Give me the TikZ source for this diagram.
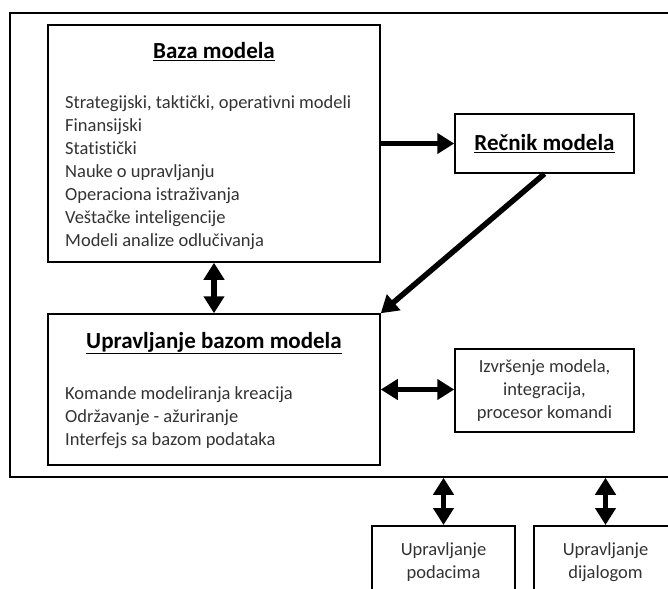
\documentclass[tikz,border=0pt]{standalone}
\usepackage{fontspec}
\setmainfont{Carlito}[Ligatures=NoCommon]
\usepackage{tikz}
\usetikzlibrary{arrows.meta}
\usetikzlibrary{positioning}
\newcommand{\naslov}[1]{\underline{\textbf{#1}}}

\tikzset{
    box/.style={draw, line width=1.5pt, rectangle, inner sep=0pt},
    bigarrow/.style={line width=5.5pt, -{Triangle[length=17pt,width=20pt]}},
    bigboth/.style={line width=5.5pt, {Triangle[length=17pt,width=20pt]}-{Triangle[length=17pt,width=20pt]}},
    titlefont/.style={font=\fontsize{23}{27}\selectfont},
    itemfont/.style={font=\fontsize{18.5}{23}\selectfont, text=black!80}
}

\begin{document}
\begin{tikzpicture}[x=1pt, y=-1pt]
    \clip (0,0) rectangle (668,588);
    \node[box, minimum width=665pt, minimum height=464pt] (okvir) at (342.5,245) {};
    \node[box, minimum width=332pt, minimum height=237pt] (baza) at (214,143.5) {};
    \node[titlefont] (baza-naslov) at (214,52) {\naslov{Baza modela}};
    \node[itemfont, align=left, anchor=north west, inner sep=0pt] (baza-lista) at (65,95) {
        Strategijski, taktički, operativni modeli\\
        Finansijski\\
        Statistički\\
        Nauke o upravljanju\\
        Operaciona istraživanja\\
        Veštačke inteligencije\\
        Modeli analize odlučivanja};
    \node[box, titlefont, minimum width=179pt, minimum height=59pt] (recnik) at (544.5,143.5) {\naslov{Rečnik modela}};
    \node[box, minimum width=332pt, minimum height=151pt] (upravljanje) at (214,389.5) {};
    \node[titlefont] (upravljanje-naslov) at (214,343) {\naslov{Upravljanje bazom modela}};
    \node[itemfont, align=left, anchor=north west, inner sep=0pt] (upravljanje-lista) at (65,386) {
        Komande modeliranja kreacija\\
        Održavanje - ažuriranje\\
        Interfejs sa bazom podataka};
    \node[box, itemfont, align=center, minimum width=179pt, minimum height=83pt] (izvrsenje) at (544.5,390.5) {
        Izvršenje modela,\\ integracija,\\ procesor komandi};
    \node[box, itemfont, align=center, minimum width=143pt, minimum height=72pt, anchor=north] (podaci) at (443.5,525) {
        Upravljanje\\ podacima};
    \node[box, itemfont, align=center, minimum width=143pt, minimum height=72pt, anchor=north] (dijalog) at (605.5,525) {
        Upravljanje\\ dijalogom};
    \draw[bigarrow] (baza.east) -- (recnik.west);
    \draw[bigarrow] (recnik.south) -- (upravljanje.north east);
    \draw[bigboth] (baza.south) -- (upravljanje.north);
    \draw[bigboth] (upravljanje.east) -- (upravljanje.east -| izvrsenje.west);
    \draw[bigboth] (okvir.south -| podaci.north) -- (podaci.north);
    \draw[bigboth] (okvir.south -| dijalog.north) -- (dijalog.north);
\end{tikzpicture}
\end{document}
